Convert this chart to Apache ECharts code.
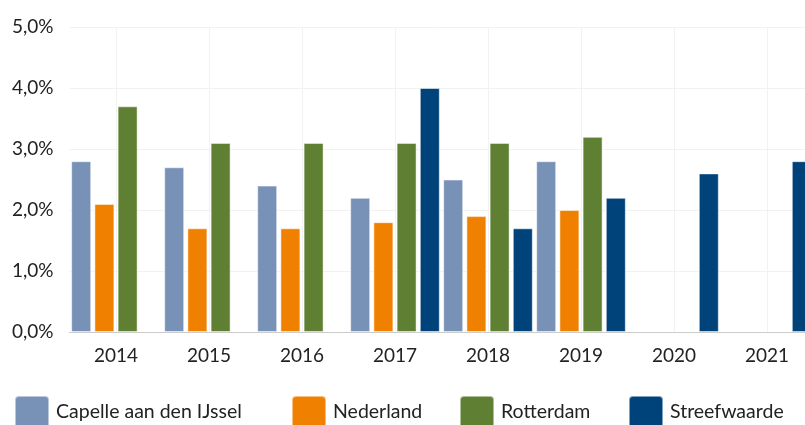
<!DOCTYPE html>
<html>
<head>
<meta charset="utf-8">
<script src="https://cdn.jsdelivr.net/npm/echarts@6/dist/echarts.min.js"></script>
<style>html,body{margin:0;padding:0;background:#fff}#c{width:805px;height:425px}</style>
</head>
<body>
<div id="c"></div>
<script>
const categories = ['2014','2015','2016','2017','2018','2019','2020','2021'];
const capelle = [2.8, 2.7, 2.4, 2.2, 2.5, 2.8, null, null];
const nederland = [2.1, 1.7, 1.7, 1.8, 1.9, 2.0, null, null];
const rotterdam = [3.7, 3.1, 3.1, 3.1, 3.1, 3.2, null, null];
const streefwaarde = [null, null, null, 4.0, 1.7, 2.2, 2.6, 2.8];
const seriesNames = ['Capelle aan den IJssel', 'Nederland', 'Rotterdam', 'Streefwaarde'];
const colors = ['#7891b6', '#f08000', '#5f7f32', '#00427a'];
const yTicks = [0, 1, 2, 3, 4, 5];

const chart = echarts.init(document.getElementById('c'));
const font = 'Lato';
const legendLefts = [14, 291, 459, 628];
const allData = [capelle, nederland, rotterdam, streefwaarde];

chart.setOption({
  animation: false,
  textStyle: { fontFamily: font },
  grid: { left: 69.5, top: 27, right: -8.5, bottom: 93, outerBoundsMode: 'none', containLabel: false },
  legend: seriesNames.map((n, i) => ({
    data: [n], left: legendLefts[i], top: 395, padding: 0,
    itemWidth: 34, itemHeight: 32, itemGap: 0,
    icon: 'path://M4,0 L30,0 Q34,0 34,4 L34,28 Q34,32 30,32 L4,32 Q0,32 0,28 L0,4 Q0,0 4,0 Z',
    textStyle: { fontFamily: font, fontSize: 19.5, color: '#222', padding: [0, 0, 0, 2] }
  })),
  xAxis: {
    type: 'category', data: categories,
    axisLine: { lineStyle: { color: '#cccccc' } },
    axisTick: { show: false },
    axisLabel: { fontFamily: font, fontSize: 19, color: '#222', margin: 14 },
    splitLine: { show: true, alignWithLabel: true, lineStyle: { color: '#f2f2f2' } }
  },
  yAxis: {
    type: 'value', min: 0, max: 5, interval: 1,
    axisLine: { show: false }, axisTick: { show: false },
    axisLabel: { fontFamily: font, fontSize: 19, color: '#222', margin: 16,
      formatter: v => yTicks.includes(v) ? v.toFixed(1).replace('.', ',') + '%' : '' },
    splitLine: { lineStyle: { color: '#f2f2f2' } }
  },
  series: allData.map((d, i) => ({
    name: seriesNames[i], type: 'bar', data: d,
    barWidth: 20, barGap: '16%',
    itemStyle: { color: colors[i], borderColor: 'rgba(255,255,255,0.5)', borderWidth: 1 }
  }))
});
</script>
</body>
</html>
